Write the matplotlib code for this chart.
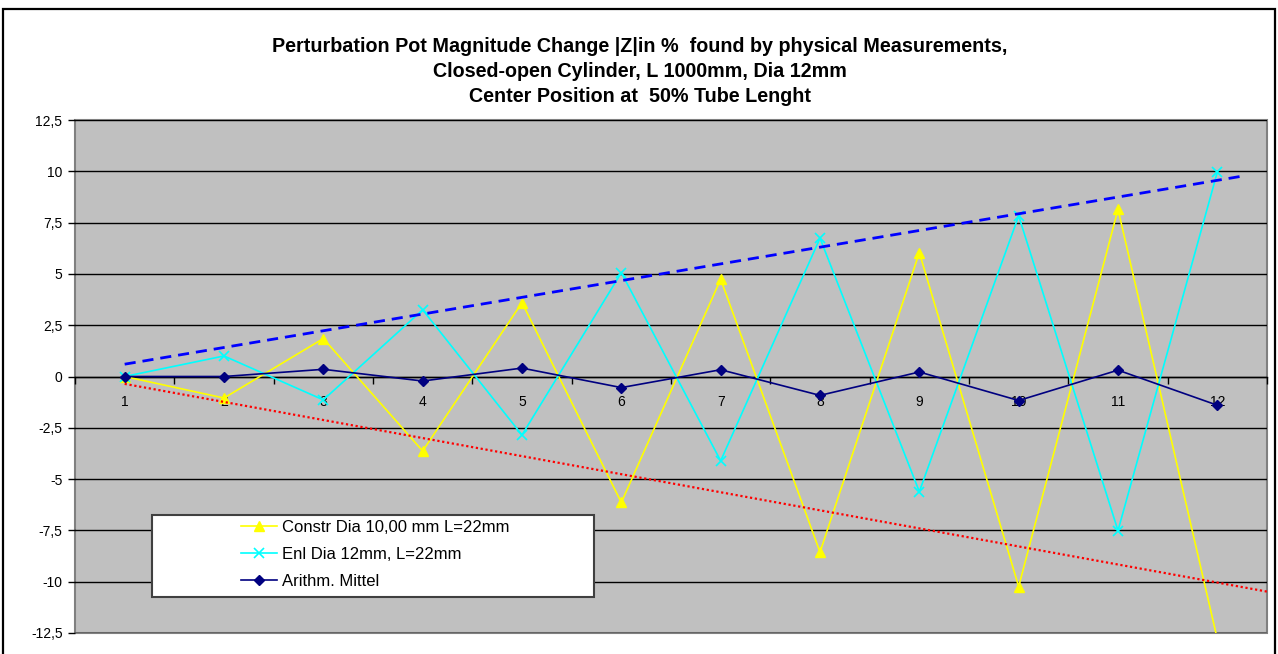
import matplotlib
matplotlib.use("Agg")
import matplotlib.pyplot as plt
from matplotlib.patches import Rectangle
from matplotlib.ticker import FixedLocator, FixedFormatter

# ---- data ----
categories = [1, 2, 3, 4, 5, 6, 7, 8, 9, 10, 11, 12]
constr = [0.0, -1.05, 1.85, -3.63, 3.6, -6.14, 4.74, -8.56, 6.04, -10.24, 8.15, -12.8]
enl = [0.0, 1.0, -1.14, 3.25, -2.85, 5.06, -4.11, 6.74, -5.61, 7.83, -7.51, 9.96]
mittel = [0.0, 0.0, 0.35, -0.22, 0.41, -0.54, 0.33, -0.92, 0.22, -1.17, 0.31, -1.4]
trend_up_x = [1.0, 12.27]
trend_up_y = [0.6, 9.78]
trend_down_x = [1.0, 12.6]
trend_down_y = [-0.36, -10.57]
yticks = [-12.5, -10, -7.5, -5, -2.5, 0, 2.5, 5, 7.5, 10, 12.5]
ytick_labels = ["-12,5", "-10", "-7,5", "-5", "-2,5", "0", "2,5", "5", "7,5", "10", "12,5"]
labels = ["Constr Dia 10,00 mm L=22mm", "Enl Dia 12mm, L=22mm", "Arithm. Mittel"]
title = ("Perturbation Pot Magnitude Change |Z|in %  found by physical Measurements,\n"
         "Closed-open Cylinder, L 1000mm, Dia 12mm\n"
         "Center Position at  50% Tube Lenght")

plt.rcParams['font.family'] = ['Liberation Sans', 'DejaVu Sans']

W, H = 1278, 654
fig = plt.figure(figsize=(W / 100, H / 100), dpi=100)
fig.patch.set_facecolor('white')

# outer frame
fig.patches.append(Rectangle((3 / W, -0.05), (1275 - 3) / W, (H - 9) / H + 0.05,
                             transform=fig.transFigure, fill=False,
                             edgecolor='black', linewidth=1.6))

L, R, T, B = 75, 1267, 120, 633
ax = fig.add_axes([L / W, (H - B) / H, (R - L) / W, (B - T) / H])
ax.set_facecolor('#C0C0C0')
ax.patch.set_edgecolor('#808080')
ax.patch.set_linewidth(1.5)
ax.set_xlim(0.5, 12.5)
ax.set_ylim(-12.5, 12.5)

for s in ['top', 'right', 'left']:
    ax.spines[s].set_visible(False)
ax.spines['bottom'].set_position(('data', 0))
ax.spines['bottom'].set_color('black')
ax.spines['bottom'].set_linewidth(1.0)
ax.spines['bottom'].set_zorder(1.5)

ax.yaxis.set_major_locator(FixedLocator(yticks))
ax.yaxis.set_major_formatter(FixedFormatter(ytick_labels))
ax.tick_params(axis='y', direction='out', length=5, width=1, color='black',
               labelsize=10, pad=4)
ax.grid(axis='y', color='black', linewidth=1.0, zorder=1)
ax.set_axisbelow(True)

ax.xaxis.set_major_locator(FixedLocator(categories))
ax.xaxis.set_major_formatter(FixedFormatter([str(c) for c in categories]))
ax.xaxis.set_minor_locator(FixedLocator([c + 0.5 for c in [0] + categories]))
ax.tick_params(axis='x', which='major', length=0, labelsize=10, pad=13)
ax.tick_params(axis='x', which='minor', direction='out', length=5, width=1, color='black')

l1, = ax.plot(categories, constr, color='#FFFF00', linewidth=1.2, marker='^',
              markersize=7, zorder=3)
l2, = ax.plot(categories, enl, color='#00FFFF', linewidth=1.2, marker='x',
              markersize=7, markeredgewidth=1.2, zorder=3)
l3, = ax.plot(categories, mittel, color='#000080', linewidth=1.2, marker='D',
              markersize=5.5, zorder=3)
ax.plot(trend_up_x, trend_up_y, color='#0000FF', linewidth=2.0,
        linestyle=(0, (4, 2.5)), zorder=3.5)
ax.plot(trend_down_x, trend_down_y, color='#FF0000', linewidth=1.6,
        linestyle=(0, (1, 1.2)), zorder=3.5)

# legend box
lx0, ly0, lx1, ly1 = 152, 515, 594, 597
fig.patches.append(Rectangle((lx0 / W, (H - ly1) / H), (lx1 - lx0) / W, (ly1 - ly0) / H,
                             transform=fig.transFigure, facecolor='white',
                             edgecolor='#404040', linewidth=1.5, zorder=4))
leg = fig.legend([l1, l2, l3], labels, loc='upper left',
                 bbox_to_anchor=(241 / W, (H - 520) / H), frameon=False,
                 fontsize=12, handlelength=2.15, handletextpad=0.34,
                 labelspacing=0.72, borderpad=0, borderaxespad=0)
leg.set_zorder(5)

fig.text(640 / W, (H - 37) / H, title, ha='center', va='top', fontsize=14.2,
         fontweight='bold', linespacing=1.41)

fig.savefig('out.png', dpi=100)
